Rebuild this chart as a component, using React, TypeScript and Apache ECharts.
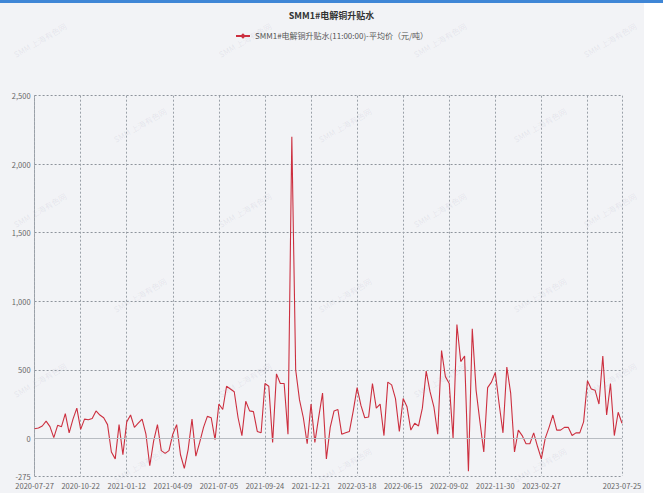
import React, { useEffect, useRef } from "react";
import * as echarts from "echarts";

const TITLE = "SMM1#电解铜升贴水";
const SERIES_NAME = "SMM1#电解铜升贴水(11:00:00)-平均价（元/吨）";
const WATERMARK = "SMM 上海有色网";

// tick dates on the category axis (the 2023-05-23 tick is drawn without a label)
const tickDates = [
  "2020-07-27", "2020-10-22", "2021-01-12", "2021-04-09", "2021-07-05",
  "2021-09-24", "2021-12-21", "2022-03-18", "2022-06-15", "2022-09-02",
  "2022-11-30", "2023-02-27", "2023-05-23", "2023-07-25",
];
const hiddenTickDates = ["2023-05-23"];
const stepsBetweenTicks = [12, 12, 12, 12, 12, 12, 12, 12, 12, 12, 12, 12, 9];

const yTicks = [-275, 0, 500, 1000, 1500, 2000, 2500];

// values (元/吨)
const v2020 = [
  70, 75, 90, 125, 85, 5, 95, 85, 180, 40, 140, 220,
  65, 140, 135, 145, 200, 170, 150, 100, -100, -150, 100, -120,
];
const v2021a = [
  120, 170, 80, 110, 140, 30, -200, -20, 100, -90, -110, -90,
  30, 100, -120, -220, -80, 140, -130, -30, 80, 160, 150, -10,
];
const v2021b = [
  250, 210, 380, 360, 340, 150, 20, 270, 200, 195, 50, 40,
  400, 380, -30, 470, 400, 400, 30, 2200, 500, 280, 150, -40,
];
const v2022a = [
  250, -30, 155, 330, -150, 80, 200, 210, 30, 40, 50, 200,
  370, 240, 150, 155, 400, 220, 250, 20, 410, 390, 290, 50,
];
const v2022b = [
  290, 230, 60, 110, 90, 220, 490, 340, 230, 30, 640, 450,
  400, 0, 830, 560, 600, -240, 800, 350, 120, -100, 370, 410,
];
const v2023 = [
  480, 250, 40, 520, 330, -100, 60, 20, -40, -40, 40, -60,
  -150, 0, 80, 170, 60, 60, 80, 80, 20, 40, 40, 120,
  420, 360, 350, 250, 600, 170, 400, 20, 190, 110,
];

const values = [...v2020, ...v2021a, ...v2021b, ...v2022a, ...v2022b, ...v2023];

function fmt(d: Date) {
  const p = (n: number) => (n < 10 ? "0" + n : "" + n);
  return d.getUTCFullYear() + "-" + p(d.getUTCMonth() + 1) + "-" + p(d.getUTCDate());
}

function buildDates() {
  const out: string[] = [];
  const tickIdx: number[] = [];
  for (let k = 0; k < tickDates.length - 1; k++) {
    const a = Date.parse(tickDates[k] + "T00:00:00Z");
    const b = Date.parse(tickDates[k + 1] + "T00:00:00Z");
    const n = stepsBetweenTicks[k];
    tickIdx.push(out.length);
    for (let j = 0; j < n; j++) {
      const t = a + Math.round(((b - a) / 86400000) * (j / n)) * 86400000;
      out.push(j === 0 ? tickDates[k] : fmt(new Date(t)));
    }
  }
  tickIdx.push(out.length);
  out.push(tickDates[tickDates.length - 1]);
  return { dates: out, tickIdx };
}

export default function App() {
  const ref = useRef<HTMLDivElement>(null);
  useEffect(() => {
    if (!ref.current) return;
    const chart = echarts.init(ref.current, undefined, { renderer: "svg" });
    const { dates, tickIdx } = buildDates();
    const tickSet = new Set(tickIdx);
    const labelSet = new Set(
      tickIdx.filter((i) => hiddenTickDates.indexOf(dates[i]) < 0)
    );
    const font = "'Noto Sans CJK SC', 'Noto Sans', sans-serif";

    const watermarks: any[] = [];
    const rows = [40, 125, 210, 295, 380, 465];
    rows.forEach((y, r) => {
      const xs = r % 2 === 0 ? [40, 245, 440, 610] : [140, 345, 540];
      xs.forEach((x) => {
        watermarks.push({
          type: "text",
          x,
          y,
          rotation: Math.PI / 6,
          style: {
            text: WATERMARK,
            fill: "rgba(120,130,150,0.13)",
            font: "8px " + font,
            align: "center",
            verticalAlign: "middle",
          },
          silent: true,
          z: 0,
        });
      });
    });

    chart.setOption({
      animation: false,
      backgroundColor: "#f2f3f6",
      textStyle: { fontFamily: font },
      title: {
        text: TITLE,
        left: "center",
        top: 6,
        textStyle: { fontSize: 9, fontWeight: "bold", color: "#333", fontFamily: font },
      },
      legend: {
        top: 27,
        left: "center",
        itemWidth: 14,
        itemHeight: 7,
        itemGap: 4,
        textStyle: { fontSize: 8, color: "#555", fontFamily: font },
        data: [{ name: SERIES_NAME }],
      },
      graphic: [
        ...watermarks,
        {
          type: "rect",
          shape: { x: 0, y: 0, width: 663, height: 3 },
          style: { fill: "#3f86d6" },
          silent: true,
          z: 10,
        },
        {
          type: "rect",
          shape: { x: 644, y: 3, width: 19, height: 490 },
          style: { fill: "#ffffff" },
          silent: true,
          z: 10,
        },
      ],
      grid: { left: 34.6, right: 41, top: 95.7, bottom: 17, containLabel: false },
      xAxis: {
        type: "category",
        data: dates,
        boundaryGap: false,
        axisLine: { show: true, lineStyle: { color: "#9aa0a8", type: [2, 2], width: 1 } },
        axisTick: { show: false },
        axisLabel: {
          interval: (i: number) => labelSet.has(i),
          fontSize: 7.5,
          color: "#666",
          margin: 6,
          fontFamily: font,
        },
        splitLine: {
          show: true,
          interval: (i: number) => tickSet.has(i),
          lineStyle: { color: "#9aa0a8", type: [2, 2], width: 1 },
        },
      },
      yAxis: {
        type: "value",
        min: -275,
        max: 2500,
        axisLine: { show: true, lineStyle: { color: "#9aa0a8", type: [2, 2], width: 1 } },
        axisTick: { show: false, customValues: yTicks },
        axisLabel: {
          customValues: yTicks,
          fontSize: 7.5,
          color: "#666",
          margin: 4,
          fontFamily: font,
          formatter: (v: number) => v.toLocaleString("en-US"),
        },
        splitLine: {
          show: true,
          lineStyle: { color: "#8e949c", type: [2, 2], width: 1 },
        },
      },
      series: [
        {
          name: SERIES_NAME,
          type: "line",
          data: values,
          symbol: "diamond",
          symbolSize: 6,
          showSymbol: false,
          lineStyle: { color: "#cc2f3f", width: 1.1 },
          itemStyle: { color: "#cc2f3f" },
          markLine: {
            silent: true,
            symbol: "none",
            label: { show: false },
            lineStyle: { color: "#b8bcc2", type: "solid", width: 1 },
            data: [{ yAxis: 0 }],
          },
        },
      ],
    });
    return () => chart.dispose();
  }, []);
  return (
    <div
      ref={ref}
      style={{ position: "fixed", left: 0, top: 0, width: 663, height: 493 }}
    />
  );
}
